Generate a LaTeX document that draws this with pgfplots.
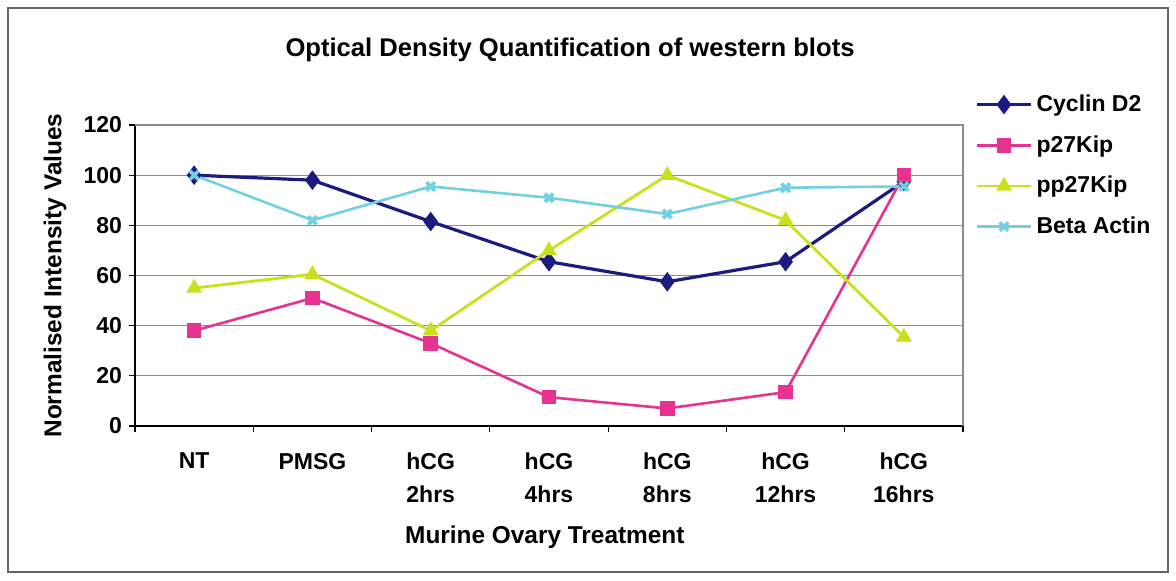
\documentclass[border=0pt]{standalone}
\usepackage{pgfplots}
\pgfplotsset{compat=1.18}
\usepackage{fontspec}
\setmainfont{Liberation Sans}

\definecolor{cyclin}{HTML}{1C1C80}
\definecolor{pkip}{HTML}{E6338F}
\definecolor{ppkip}{HTML}{C8E01E}
\definecolor{actin}{HTML}{72D0E0}
\definecolor{gridgray}{HTML}{8C8C8C}

\begin{document}
\begin{tikzpicture}
  \begin{axis}[
      scale only axis,
      width=414pt, height=150.5pt,
      xmin=-0.5, xmax=6.5,
      ymin=0, ymax=120,
      axis x line*=bottom,
      axis y line*=left,
      axis line style={black, line width=0.8pt},
      xtick={0,...,6},
      xticklabels={NT, PMSG, hCG\\2hrs, hCG\\4hrs, hCG\\8hrs, hCG\\12hrs, hCG\\16hrs},
      x tick style={draw=none},
      extra x ticks={-0.5,0.5,...,6.5},
      extra x tick labels={},
      extra x tick style={x tick style={draw=black, line width=0.6pt}},
      ytick={0,20,...,120},
      tick align=outside,
      major tick length=3pt,
      y tick style={black, line width=0.6pt},
      ymajorgrids,
      grid style={gridgray, line width=0.6pt},
      /pgf/number format/assume math mode=true,
      ticklabel style={font=\bfseries\fontsize{11.5}{13}\selectfont},
      xticklabel style={align=center, font=\bfseries\fontsize{11.5}{16.5}\selectfont, yshift=-7pt},
      ylabel={Normalised Intensity Values},
      ylabel style={at={(axis description cs:-0.0966,0.5)}, anchor=center, rotate=0,
        font=\bfseries\fontsize{12.2}{14}\selectfont},
      xlabel={Murine Ovary Treatment},
      xlabel style={at={(axis description cs:0.495,-0.369)}, anchor=center,
        font=\bfseries\fontsize{12.2}{14}\selectfont},
      legend style={draw=none, fill=none, at={(axis description cs:1.0145,1.115)},
        anchor=north west, font=\bfseries\fontsize{11.5}{13}\selectfont,
        row sep=6.5pt, inner sep=0pt, cells={anchor=west}},
      legend image code/.code={
        \draw[mark repeat=2, mark phase=2, #1]
          plot coordinates {(0pt,0pt) (13.5pt,0pt) (27pt,0pt)};},
      legend cell align=left,
      clip=false,
    ]
    \addplot[cyclin, line width=1.6pt, mark=diamond*, mark size=3.6pt,
      mark options={solid, fill=cyclin}] coordinates {
      (0,100) (1,98) (2,81.5) (3,65.5) (4,57.5) (5,65.5) (6,97.5)};
    \addplot[pkip, line width=1.3pt, mark=square*, mark size=3pt,
      mark options={solid, fill=pkip}] coordinates {
      (0,38) (1,51) (2,33) (3,11.5) (4,7) (5,13.5) (6,100)};
    \addplot[ppkip, line width=1.4pt, mark=triangle*, mark size=3.2pt,
      mark options={solid, fill=ppkip}] coordinates {
      (0,55) (1,60.5) (2,38) (3,70) (4,100) (5,82) (6,35.5)};
    \addplot[actin, line width=1.3pt, mark=x, mark size=3pt,
      mark options={solid, line width=1.8pt}] coordinates {
      (0,100) (1,82) (2,95.5) (3,91) (4,84.5) (5,95) (6,95.5)};
    \legend{Cyclin D2, p27Kip, pp27Kip, Beta Actin}
    \draw[gridgray, line width=0.6pt] (rel axis cs:0,1) -- (rel axis cs:1,1) -- (rel axis cs:1,0);
  \end{axis}
  \node[font=\bfseries\fontsize{12.8}{15}\selectfont] at (217.5pt,188pt)
    {Optical Density Quantification of western blots};
  \draw[black!60, line width=1pt] (-63.5pt,-73pt) rectangle (516.5pt,209pt);
  \path (-67.5pt,-77pt) rectangle (520.5pt,213pt);
\end{tikzpicture}
\end{document}
